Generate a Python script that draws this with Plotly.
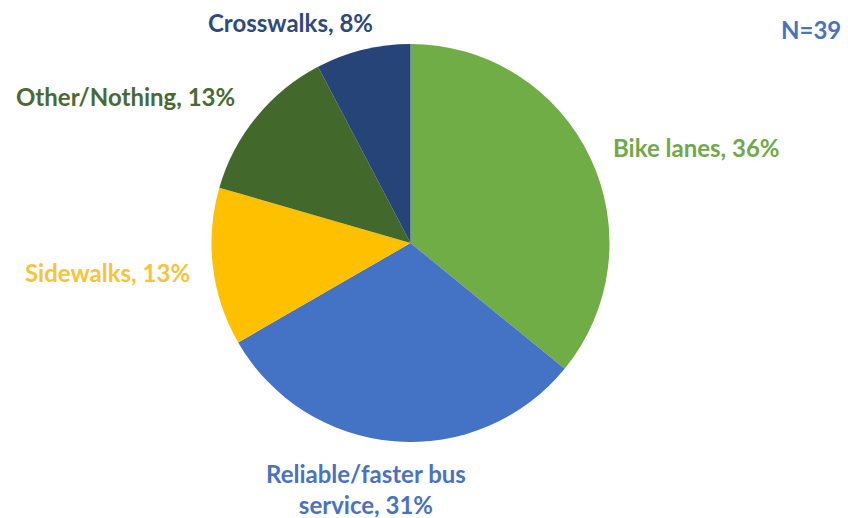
import plotly.graph_objects as go

# Survey responses (N=39)
categories = ["Bike lanes", "Reliable/faster bus service", "Sidewalks", "Other/Nothing", "Crosswalks"]
counts = [14, 12, 5, 5, 3]
slice_colors = ["#70AD47", "#4472C4", "#FFC000", "#43682B", "#264478"]
label_colors = ["#70A84A", "#4A72BE", "#F7C33A", "#4A6A35", "#2E4A7C"]
label_texts = ["Bike lanes, 36%", "Reliable/faster bus<br>service, 31%", "Sidewalks, 13%",
               "Other/Nothing, 13%", "Crosswalks, 8%"]
sample_note = "N=39"

W, H = 848, 518
cx, cy, r = 410.5, 243, 199

fig = go.Figure(go.Pie(
    labels=categories,
    values=counts,
    sort=False,
    direction="clockwise",
    rotation=0,
    marker=dict(colors=slice_colors, line=dict(width=0)),
    textinfo="none",
    hoverinfo="label+percent",
    domain=dict(x=[(cx - r) / W, (cx + r) / W], y=[(H - cy - r) / H, (H - cy + r) / H]),
    showlegend=False,
))

# label anchor centres in pixels (x, y)
label_pos = [(696, 147), (366, 489), (107, 272), (125, 97), (290, 22)]

font_family = "Lato, 'Open Sans', sans-serif"
for text, color, (px, py) in zip(label_texts, label_colors, label_pos):
    fig.add_annotation(
        x=px / W, y=1 - py / H, xref="paper", yref="paper",
        text=f"<b>{text}</b>", showarrow=False,
        font=dict(family=font_family, size=24, color=color),
        xanchor="center", yanchor="middle", align="center",
    )

fig.add_annotation(
    x=811 / W, y=1 - 30 / H, xref="paper", yref="paper",
    text=f"<b>{sample_note}</b>", showarrow=False,
    font=dict(family=font_family, size=24, color="#4A72BE"),
    xanchor="center", yanchor="middle",
)

fig.update_layout(
    width=W, height=H,
    margin=dict(l=0, r=0, t=0, b=0),
    paper_bgcolor="white", plot_bgcolor="white",
)

fig.write_html("out.html")
